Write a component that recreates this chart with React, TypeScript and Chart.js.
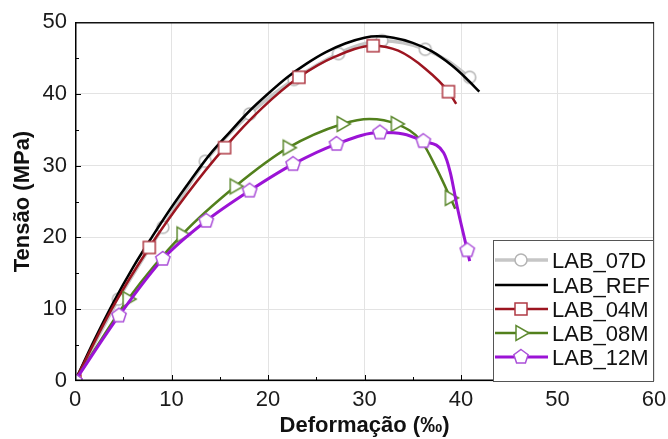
import React, { useEffect, useRef } from 'react';
import { Chart, registerables } from 'chart.js';

Chart.register(...registerables);

const FONT = "'Liberation Sans', Arial, Helvetica, sans-serif";

// Axis ranges and tick spacing
const xRange = [0, 60];
const yRange = [0, 50];
const majorStep = 10;
const minorStep = 5;

const xTitle = 'Deformação (‰)';
const yTitle = 'Tensão (MPa)';

const seriesNames = ['LAB_07D', 'LAB_REF', 'LAB_04M', 'LAB_08M', 'LAB_12M'];

// LAB_07D
const lab07dX = [0, 4.5, 9.1, 13.5, 18.1, 22.7, 27.3, 29.5, 31.8, 34.0, 36.3, 38.6, 40.9];
const lab07dY = [0, 11.4, 21.4, 30.6, 37.2, 42.0, 45.6, 46.8, 47.4, 47.1, 46.2, 44.6, 42.3];
const lab07dMarks = [0, 4.5, 9.1, 13.5, 18.1, 22.7, 27.3, 31.8, 36.3, 40.9];

// LAB_REF
const labRefX = [0, 2, 4, 6, 8, 10, 12, 14, 16, 18, 20, 22, 24, 26, 28, 30, 31.3, 33, 35, 37, 39, 40.5, 41.9];
const labRefY = [0, 5.7, 11.0, 15.8, 20.1, 24.2, 28.0, 31.6, 34.6, 37.5, 40.0, 42.3, 44.2, 45.8, 47.0, 47.8, 48.0, 47.8, 47.1, 45.9, 44.0, 42.2, 40.3];
const labRefMarks: number[] = [];

// LAB_04M
const lab04mX = [0, 3.8, 7.7, 11.6, 15.5, 19.3, 23.2, 27.0, 30.9, 33.5, 36.3, 38.7, 39.5];
const lab04mY = [0, 10.0, 18.6, 26.0, 32.5, 37.9, 42.3, 45.2, 46.7, 46.0, 43.5, 40.3, 38.6];
const lab04mMarks = [0, 7.7, 15.5, 23.2, 30.9, 38.7];

// LAB_08M
const lab08mX = [0, 5.5, 11.1, 16.6, 22.1, 27.7, 30.5, 33.3, 35.9, 37.5, 38.9, 39.4];
const lab08mY = [0, 11.4, 20.4, 27.1, 32.5, 35.8, 36.5, 35.8, 33.4, 29.5, 25.5, 24.0];
const lab08mMarks = [0, 5.5, 11.1, 16.6, 22.1, 27.7, 33.3, 38.9];

// LAB_12M
const lab12mX = [0, 4.56, 9.1, 13.6, 18.1, 22.6, 27.1, 31.6, 34.0, 36.1, 38.2, 38.9, 39.6, 40.65, 40.9];
const lab12mY = [0, 9.1, 17.0, 22.3, 26.5, 30.2, 33.0, 34.6, 34.4, 33.4, 31.8, 29.0, 24.3, 18.2, 16.7];
const lab12mMarks = [0, 4.56, 9.1, 13.6, 18.1, 22.6, 27.1, 31.6, 36.1, 40.65];

type Shape = 'circle' | 'square' | 'triangle' | 'pentagon' | 'none';

function makeMarker(shape: Shape, stroke: string): HTMLCanvasElement {
  const S = 20;
  const c = document.createElement('canvas');
  c.width = S;
  c.height = S;
  const g = c.getContext('2d')!;
  g.translate(S / 2, S / 2);
  g.beginPath();
  if (shape === 'circle') {
    g.arc(0, 0, 6, 0, Math.PI * 2);
  } else if (shape === 'square') {
    g.rect(-6, -6, 12, 12);
  } else if (shape === 'triangle') {
    g.moveTo(8, 0);
    g.lineTo(-5, -7.5);
    g.lineTo(-5, 7.5);
    g.closePath();
  } else if (shape === 'pentagon') {
    for (let i = 0; i < 5; i++) {
      const a = -Math.PI / 2 + (i * 2 * Math.PI) / 5;
      const px = Math.cos(a) * 7.5;
      const py = Math.sin(a) * 7.5;
      if (i === 0) g.moveTo(px, py);
      else g.lineTo(px, py);
    }
    g.closePath();
  }
  g.fillStyle = '#ffffff';
  g.fill();
  g.lineWidth = 1.5;
  g.strokeStyle = stroke;
  g.stroke();
  return c;
}

interface SeriesDef {
  name: string;
  xs: number[];
  ys: number[];
  marks: number[];
  color: string;
  width: number;
  shape: Shape;
  markStroke: string;
  order: number;
}

const seriesDefs: SeriesDef[] = [
  { name: seriesNames[0], xs: lab07dX, ys: lab07dY, marks: lab07dMarks, color: '#c6c6c6', width: 3.5, shape: 'circle', markStroke: '#b4b4b4', order: 5 },
  { name: seriesNames[1], xs: labRefX, ys: labRefY, marks: labRefMarks, color: '#000000', width: 2.5, shape: 'none', markStroke: '#000000', order: 4 },
  { name: seriesNames[2], xs: lab04mX, ys: lab04mY, marks: lab04mMarks, color: '#9c1520', width: 2.5, shape: 'square', markStroke: '#b03a44', order: 3 },
  { name: seriesNames[3], xs: lab08mX, ys: lab08mY, marks: lab08mMarks, color: '#52801c', width: 2.5, shape: 'triangle', markStroke: '#5e8a30', order: 2 },
  { name: seriesNames[4], xs: lab12mX, ys: lab12mY, marks: lab12mMarks, color: '#9b13d6', width: 3, shape: 'pentagon', markStroke: '#aa4fd8', order: 1 },
];

export default function App() {
  const canvasRef = useRef<HTMLCanvasElement | null>(null);

  useEffect(() => {
    if (!canvasRef.current) return;
    const markerImgs = seriesDefs.map((s) => (s.shape === 'none' ? null : makeMarker(s.shape, s.markStroke)));

    const datasets = seriesDefs.map((s, si) => ({
      label: s.name,
      data: s.xs.map((x, i) => ({ x, y: s.ys[i] })),
      borderColor: s.color,
      backgroundColor: '#ffffff',
      borderWidth: s.width,
      cubicInterpolationMode: 'monotone' as const,
      order: s.order,
      pointStyle: markerImgs[si] || 'circle',
      pointRadius: (ctx: any) => (markerImgs[si] && s.marks.includes(s.xs[ctx.dataIndex]) ? 7 : 0),
      pointHoverRadius: (ctx: any) => (markerImgs[si] && s.marks.includes(s.xs[ctx.dataIndex]) ? 7 : 0),
    }));

    // Frame with inward minor ticks, then the legend box
    const framePlugin = {
      id: 'frame',
      afterDatasetsDraw(chart: any) {
        const { ctx, chartArea: a, scales } = chart;
        ctx.save();
        ctx.strokeStyle = '#000';
        ctx.lineWidth = 1;
        const xs = scales.x;
        const ys = scales.y;
        for (let v = xRange[0] + minorStep; v < xRange[1]; v += minorStep) {
          const px = Math.round(xs.getPixelForValue(v)) + 0.5;
          const len = v % majorStep === 0 ? 6 : 4;
          ctx.beginPath();
          ctx.moveTo(px, a.bottom);
          ctx.lineTo(px, a.bottom - len);
          ctx.stroke();
        }
        for (let v = yRange[0] + minorStep; v < yRange[1]; v += minorStep) {
          const py = Math.round(ys.getPixelForValue(v)) + 0.5;
          const len = v % majorStep === 0 ? 6 : 4;
          ctx.beginPath();
          ctx.moveTo(a.left, py);
          ctx.lineTo(a.left + len, py);
          ctx.stroke();
        }
        // right and top border
        ctx.strokeStyle = '#4a4a4a';
        ctx.lineWidth = 1;
        ctx.beginPath();
        ctx.moveTo(a.right - 0.5, a.top);
        ctx.lineTo(a.right - 0.5, a.bottom);
        ctx.stroke();
        ctx.strokeStyle = '#111';
        ctx.lineWidth = 1.5;
        ctx.beginPath();
        ctx.moveTo(a.left, a.top + 0.75);
        ctx.lineTo(a.right, a.top + 0.75);
        ctx.stroke();
        // left and bottom axes
        ctx.strokeStyle = '#000';
        ctx.lineWidth = 1.5;
        ctx.beginPath();
        ctx.moveTo(a.left + 0.75, a.top);
        ctx.lineTo(a.left + 0.75, a.bottom);
        ctx.moveTo(a.left, a.bottom - 0.75);
        ctx.lineTo(a.right, a.bottom - 0.75);
        ctx.stroke();

        // Legend box in the lower right corner
        const bw = 161;
        const bh = 141;
        const bx = a.right - bw;
        const by = a.bottom - bh;
        ctx.fillStyle = '#ffffff';
        ctx.fillRect(bx, by, bw, bh);
        ctx.strokeStyle = '#555';
        ctx.lineWidth = 1;
        ctx.strokeRect(bx + 0.5, by + 0.5, bw - 1, bh);
        ctx.font = `22px ${FONT}`;
        ctx.textBaseline = 'alphabetic';
        ctx.textAlign = 'left';
        seriesDefs.forEach((s, i) => {
          const base = by + 28.3 + i * 24.2;
          const cy = Math.round(base - 8);
          ctx.strokeStyle = s.color;
          ctx.lineWidth = s.width;
          ctx.beginPath();
          ctx.moveTo(bx + 2, cy);
          ctx.lineTo(bx + 55, cy);
          ctx.stroke();
          const img = markerImgs[i];
          if (img) ctx.drawImage(img, bx + 28 - img.width / 2, cy - img.height / 2);
          ctx.fillStyle = '#111';
          ctx.fillText(s.name, bx + 59, base);
        });
        ctx.restore();
      },
    };

    const chart = new Chart(canvasRef.current, {
      type: 'line',
      data: { datasets },
      plugins: [framePlugin],
      options: {
        animation: false,
        responsive: true,
        maintainAspectRatio: false,
        devicePixelRatio: 1,
        events: [],
        layout: { padding: { left: 0, right: 14, top: 22, bottom: 0 } },
        plugins: {
          legend: { display: false },
          tooltip: { enabled: false },
        },
        scales: {
          x: {
            type: 'linear',
            min: xRange[0],
            max: xRange[1],
            afterFit: (scale: any) => {
              scale.height = 58;
            },
            ticks: {
              stepSize: majorStep,
              color: '#1a1a1a',
              padding: 0,
              font: { family: FONT, size: 22, lineHeight: 1.75 },
            },
            grid: { color: '#e3e3e3', lineWidth: 1, drawTicks: false },
            border: { display: false },
            title: {
              display: true,
              text: xTitle,
              color: '#111',
              font: { family: FONT, size: 22, weight: 'bold' },
              padding: { top: 0, bottom: 0 },
            },
          },
          y: {
            type: 'linear',
            min: yRange[0],
            max: yRange[1],
            afterFit: (scale: any) => {
              scale.width = 75;
            },
            ticks: {
              stepSize: majorStep,
              color: '#1a1a1a',
              padding: 8,
              font: { family: FONT, size: 22 },
            },
            grid: { color: '#e3e3e3', lineWidth: 1, drawTicks: false },
            border: { display: false },
            title: {
              display: true,
              text: yTitle,
              color: '#111',
              font: { family: FONT, size: 22, weight: 'bold' },
              padding: { top: 10, bottom: 0 },
            },
          },
        },
      },
    });
    return () => chart.destroy();
  }, []);

  return (
    <div style={{ position: 'fixed', left: 0, top: 0, width: 668, height: 439, background: '#fff' }}>
      <canvas ref={canvasRef} />
    </div>
  );
}
